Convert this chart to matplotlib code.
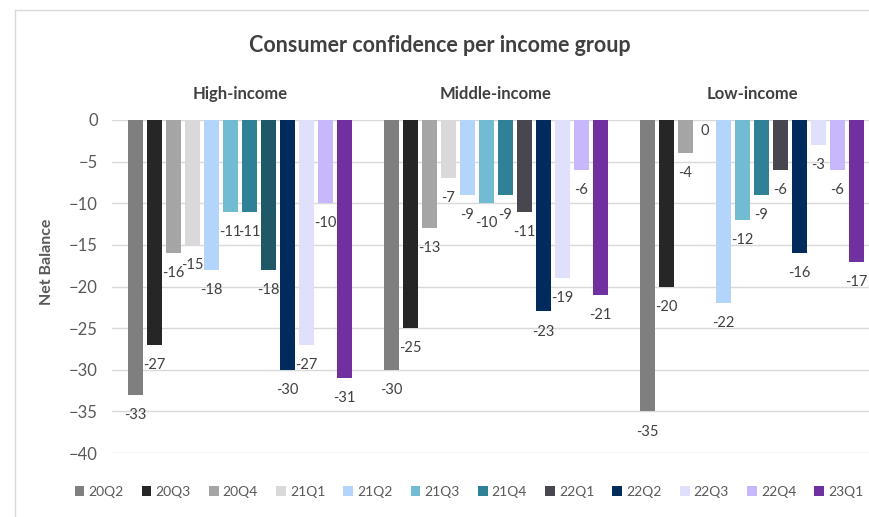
import matplotlib
matplotlib.use("Agg")
import matplotlib.pyplot as plt
from matplotlib.patches import Patch
from matplotlib.lines import Line2D
import numpy as np

plt.rcParams['font.family'] = ['Lato', 'DejaVu Sans']

groups = ["High-income", "Middle-income", "Low-income"]
series = ["20Q2", "20Q3", "20Q4", "21Q1", "21Q2", "21Q3", "21Q4",
          "22Q1", "22Q2", "22Q3", "22Q4", "23Q1"]
high_income = [-33, -27, -16, -15, -18, -11, -11, -18, -30, -27, -10, -31]
middle_income = [-30, -25, -13, -7, -9, -10, -9, -11, -23, -19, -6, -21]
low_income = [-35, -20, -4, 0, -22, -12, -9, -6, -16, -3, -6, -17]
values = [high_income, middle_income, low_income]

colors = ["#7f7f7f", "#262626", "#a5a5a5", "#d9d9d9", "#b4d5fb", "#72bcd3",
          "#2e8196", "#48464e", "#002b5c", "#e0e0fd", "#c8b7fd", "#7030a0"]
# the 22Q1 bar of the high-income group is drawn in dark teal in the original
override = {(0, 7): "#1f5866"}

W, H = 870, 517
fig = plt.figure(figsize=(W / 100, H / 100), dpi=100)
ax_left, ax_right, ax_top, ax_bot = 112, 870, 120, 453
ax = fig.add_axes([ax_left / W, 1 - ax_bot / H, (ax_right - ax_left) / W, (ax_bot - ax_top) / H])

text_col = "#595959"
n = len(series)
pitch = 19 / 256
width = 14.5 / 256
x = np.arange(len(groups))

for j, s in enumerate(series):
    xs = x + (j - (n - 1) / 2) * pitch
    vals = [values[g][j] for g in range(len(groups))]
    cols = [override.get((g, j), colors[j]) for g in range(len(groups))]
    ax.bar(xs, vals, width=width, color=cols, zorder=3)
    for xi, v in zip(xs, vals):
        off = -8 if v == 0 else -14.5
        ax.annotate(f"{v}", (xi, v), xytext=(0, off), textcoords="offset points",
                    ha="center", va="center", fontsize=10.5, color="#404040", zorder=4)

ax.set_ylim(-40, 0)
ax.set_xlim(-0.5, -0.5 + (ax_right - ax_left) / 256)
ax.set_yticks(np.arange(-40, 1, 5))
ax.yaxis.grid(True, color="#d9d9d9", lw=1, zorder=0)
ax.tick_params(axis="y", length=0, pad=10, labelsize=12, labelcolor=text_col)
ax.xaxis.tick_top()
ax.set_xticks(x)
ax.set_xticklabels(groups, fontsize=12, fontweight="bold", color="#404040")
ax.tick_params(axis="x", length=0, pad=13)
for sp in ax.spines.values():
    sp.set_visible(False)

ax.set_ylabel("Net Balance", fontsize=11.5, fontweight="bold", color=text_col)
ax.yaxis.set_label_coords(-0.076, 0.574)

fig.text(440 / W, 1 - 45 / H, "Consumer confidence per income group", ha="center", va="center",
         fontsize=15.5, fontweight="bold", color="#404040")

handles = [Patch(facecolor=c, edgecolor="none") for c in colors]
leg = fig.legend(handles, series, loc="center", bbox_to_anchor=(469 / W, 1 - 492 / H), ncol=12,
                 frameon=False, fontsize=10, handlelength=0.7, handleheight=0.7,
                 handletextpad=0.3, columnspacing=1.3, labelcolor=text_col)

# chart-area border (left and top edges visible)
fig.add_artist(Line2D([15 / W, 15 / W], [0, 1 - 10 / H], transform=fig.transFigure, color="#d9d9d9", lw=1))
fig.add_artist(Line2D([15 / W, 1], [1 - 10 / H, 1 - 10 / H], transform=fig.transFigure, color="#d9d9d9", lw=1))

fig.savefig("out.png", dpi=100, facecolor="white")
